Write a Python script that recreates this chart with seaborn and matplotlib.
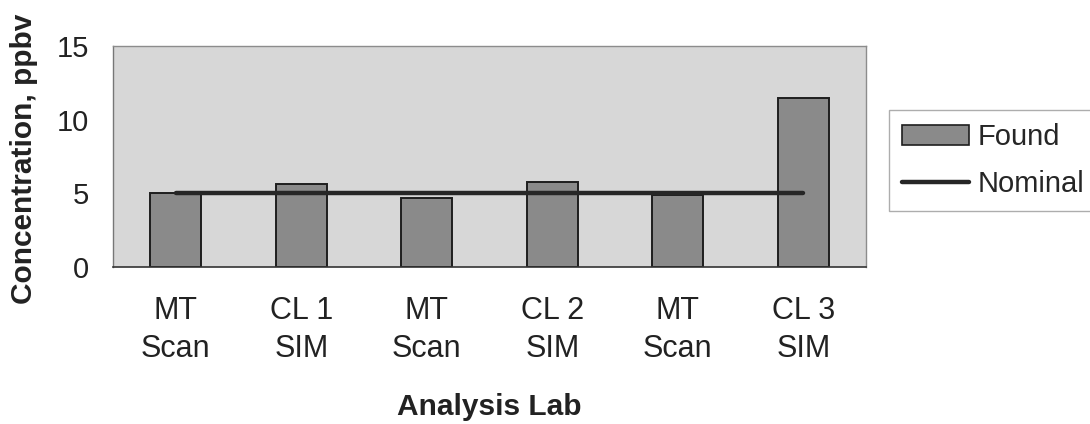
import numpy as np
import pandas as pd
import matplotlib.pyplot as plt
import seaborn as sns
from matplotlib.patches import Patch
from matplotlib.lines import Line2D

# data
lab_keys = ['MT1', 'CL1', 'MT2', 'CL2', 'MT3', 'CL3']
lab_labels = ['MT\nScan', 'CL 1\nSIM', 'MT\nScan', 'CL 2\nSIM', 'MT\nScan', 'CL 3\nSIM']
found = [5.0, 5.6, 4.7, 5.8, 4.9, 11.5]
nominal = [5.0, 5.0, 5.0, 5.0, 5.0, 5.0]
yticks = [0, 5, 10, 15]

sns.set_style('white')
plt.rcParams['font.family'] = ['Liberation Sans', 'DejaVu Sans']

df = pd.DataFrame({'lab': lab_keys, 'found': found, 'nominal': nominal})
df['pos'] = np.arange(len(df))

fig = plt.figure(figsize=(10.9, 4.24), dpi=100)
ax = fig.add_axes([113/1090, 1-267/424, 753/1090, 221/424])
ax.set_facecolor('#d7d7d7')

sns.barplot(data=df, x='lab', y='found', order=lab_keys, width=0.41,
            color='#8a8a8a', saturation=1, edgecolor='#1e1e1e', linewidth=1.4, ax=ax)
sns.lineplot(data=df, x='pos', y='nominal', color='#262626', linewidth=3.2, ax=ax)

ax.set_xlim(-0.5, len(lab_keys) - 0.5)
ax.set_ylim(0, 15)
ax.set_yticks(yticks)
ax.set_xticks(df['pos'])
ax.set_xticklabels(lab_labels, fontsize=22, linespacing=1.32)
ax.set_xticks(np.arange(len(lab_keys) + 1) - 0.5, minor=True)
ax.tick_params(axis='x', which='major', length=0, pad=21)
ax.tick_params(axis='x', which='minor', length=9, width=0.9, color='#555555', direction='out')
ax.tick_params(axis='y', length=9, width=0.9, color='#555555', direction='out', pad=8, labelsize=21)
ax.tick_params(axis='both', labelcolor='#222222')

for side in ['top', 'right']:
    ax.spines[side].set_color('#8c8c8c')
    ax.spines[side].set_linewidth(1.0)
ax.spines['left'].set_color('#777777')
ax.spines['left'].set_linewidth(1.0)
ax.spines['bottom'].set_color('#333333')
ax.spines['bottom'].set_linewidth(1.2)

ax.set_ylabel('Concentration, ppbv', fontsize=21.5, fontweight='bold', color='#222222')
ax.yaxis.set_label_coords(-0.100, 0.49)
ax.set_xlabel('Analysis Lab', fontsize=21.5, fontweight='bold', color='#222222')
ax.xaxis.set_label_coords(0.5, -0.572)

handles = [Patch(facecolor='#8a8a8a', edgecolor='#1e1e1e', linewidth=1.2, label='Found'),
           Line2D([0], [0], color='#262626', linewidth=3.2, label='Nominal')]
fig.legend(handles=handles, loc='upper left', bbox_to_anchor=(889/1090, 1-110/424),
           fontsize=21, frameon=True, fancybox=False, edgecolor='#999999',
           handlelength=2.3, handletextpad=0.3, borderpad=0.45, labelspacing=0.65,
           borderaxespad=0)

fig.savefig('out.png', dpi=100)
